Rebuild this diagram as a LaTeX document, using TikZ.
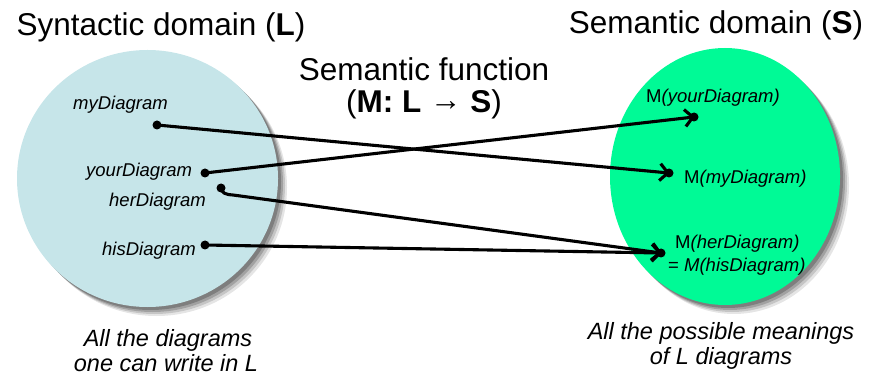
\documentclass[tikz,border=0pt]{standalone}
\usepackage{fontspec}
\setmainfont{Liberation Sans}
\usetikzlibrary{arrows.meta}
\definecolor{synfill}{RGB}{198,229,233}
\definecolor{semfill}{RGB}{0,250,150}
\begin{document}
\begin{tikzpicture}[x=1pt,y=-1pt,
  title/.style={font=\fontsize{31.5}{32}\selectfont, inner sep=0pt, anchor=base, align=center},
  lbl/.style={font=\fontsize{18.5}{21}\selectfont\itshape, inner sep=0pt},
  mlbl/.style={font=\fontsize{18.5}{21}\selectfont, inner sep=0pt},
  caption/.style={font=\fontsize{23.5}{25}\selectfont\itshape, inner sep=0pt, anchor=base, align=center},
  pt/.style={circle, fill=black, inner sep=0pt, minimum size=9pt},
  map/.style={line width=3.1pt, -{Straight Barb[length=8pt,width=17pt,line width=3.1pt]}, shorten >=-1pt},
  shad/.style={fill=black, opacity=#1, draw=none}
]
\useasboundingbox (0,0) rectangle (872,379);
% shadows
\foreach \o/\d in {0.10/9,0.14/7,0.18/5,0.22/3}{
  \fill[shad=\o] (147.5+\d,178.5+\d) ellipse [x radius=130.5, y radius=128.5];
  \fill[shad=\o] (725+\d,176.5+\d) ellipse [x radius=115, y radius=128.5];
}
% domains
\fill[synfill] (147.5,178.5) ellipse [x radius=130.5, y radius=128.5];
\fill[semfill] (725,176.5) ellipse [x radius=115, y radius=128.5];

% titles
\node[title] (tl) at (161,36) {Syntactic domain (\textbf{L})};
\node[title] (tr) at (716,34) {Semantic domain (\textbf{S})};
\node[title] (tf) at (424,112.5) {Semantic function\\(\textbf{M: L} \raisebox{2pt}{\textbf{→}} \textbf{S})};

% left labels
\node[lbl, anchor=base west] (lmy) at (73,110) {myDiagram};
\node[lbl, anchor=base west] (lyour) at (86,177) {yourDiagram};
\node[lbl, anchor=base west] (lher) at (109,207) {herDiagram};
\node[lbl, anchor=base west] (lhis) at (102,255) {hisDiagram};

% right labels
\node[mlbl, anchor=base west] (ryour) at (646,103) {M\textit{(yourDiagram)}};
\node[mlbl, anchor=base west] (rmy) at (684,184) {M\textit{(myDiagram)}};
\node[mlbl, anchor=base west] (rher) at (675,248) {M\textit{(herDiagram)}};
\node[mlbl, anchor=base west] (rhis) at (668,271) {= \textit{M(hisDiagram)}};

% points
\node[pt] (pmy) at (157,125) {};
\node[pt] (pyour) at (205,173) {};
\node[pt] (pher) at (221,188) {};
\node[pt] (phis) at (205,245) {};
\node[pt] (qyour) at (694,117) {};
\node[pt] (qmy) at (669,173) {};
\node[pt] (qher) at (661,253) {};
\coordinate (hbend) at (233,195);

% mappings
\draw[map] (pmy.center) -- (qmy.center);
\draw[map] (pyour.center) -- (qyour.center);
\draw[map] (pher.center) .. controls (222,193) and (225,194.5) .. (hbend) -- (qher.center);
\draw[map] (phis.center) -- (qher.center);

% captions
\node[caption] (cl1) at (168,346) {All the diagrams};
\node[caption] (cl2) at (166,371) {one can write in L};
\node[caption] (cr1) at (721,339) {All the possible meanings};
\node[caption] (cr2) at (721,364) {of L diagrams};
\end{tikzpicture}
\end{document}
